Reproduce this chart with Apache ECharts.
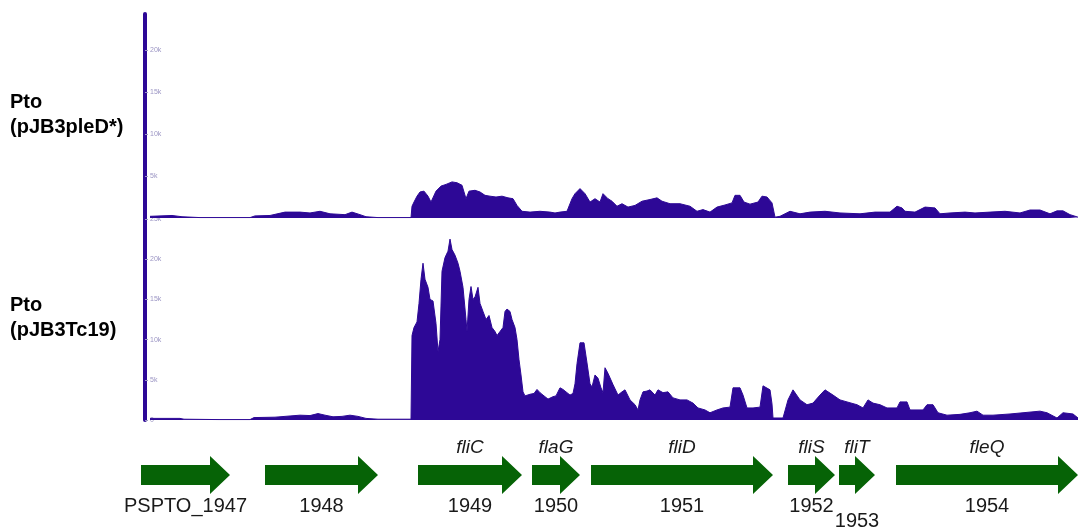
<!DOCTYPE html>
<html>
<head>
<meta charset="utf-8">
<script src="https://cdn.jsdelivr.net/npm/echarts@6/dist/echarts.min.js"></script>
<style>html,body{margin:0;padding:0;background:#fff}#c{width:1080px;height:527px}</style>
</head>
<body>
<div id="c"></div>
<script>
// Track labels
const trackLabels = [['Pto', '(pJB3pleD*)'], ['Pto', '(pJB3Tc19)']];
const tickStep = 5; // k reads

// Coverage, top track (position, coverage in k reads)
const topPos = [150,172,182,200,250,255,270,285,300,310,320,330,345,352,360,366,378,411,
  412,414,417,420,424,428,431,436,441,446,452,457,462,466,469,475,480,485,490,496,502,508,513,517,522,
  530,540,550,555,560,567,572,575,580,585,590,595,600,603,608,612,617,622,628,635,642,650,657,662,670,680,690,697,703,
  710,717,725,732,735,740,744,750,758,762,767,772,775,780,790,800,810,825,840,860,875,890,897,902,905,915,925,935,940,
  950,965,975,990,1005,1020,1030,1040,1050,1057,1063,1070,1078];
const topCov = [0.2,0.3,0.15,0.05,0.05,0.25,0.3,0.7,0.7,0.6,0.8,0.5,0.4,0.7,0.4,0.15,0.05,0.05,
  1.4,1.9,2.6,3.1,3.2,2.6,1.9,3.2,3.8,4.0,4.3,4.2,3.9,2.3,3.2,3.3,3.1,2.7,2.6,2.5,2.6,2.4,2.3,1.5,0.8,
  0.7,0.8,0.7,0.6,0.7,0.8,2.3,2.9,3.5,2.9,1.9,2.3,1.9,2.9,2.3,2.0,1.4,1.7,1.3,1.5,2.0,2.2,2.4,2.0,1.7,1.7,1.4,0.8,1.0,
  0.7,1.3,1.55,1.8,2.7,2.7,1.9,1.65,1.9,2.6,2.5,1.8,0.1,0.2,0.8,0.5,0.7,0.8,0.6,0.5,0.7,0.7,1.4,1.2,0.8,0.7,1.3,1.2,0.5,
  0.6,0.7,0.6,0.7,0.8,0.6,0.95,0.95,0.5,0.85,0.85,0.4,0.1];

// Coverage, bottom track (position, coverage in k reads)
const botPos = [150,180,184,220,250,254,275,290,300,310,318,325,333,342,350,358,366,378,411,
  412,414,417,419,421,423,425,428,430,433,436,438,440,442,445,448,450,452,455,458,460,463,466,467,469,471,473,475,478,480,
  483,486,489,492,495,497,500,503,505,507,510,512,515,517,519,521,523,525,530,534,537,540,544,548,550,553,556,560,563,567,
  570,573,575,577,580,584,587,590,592,595,598,601,603,605,608,610,613,618,622,625,630,635,638,640,643,647,650,655,658,663,
  668,673,680,687,693,698,705,710,717,723,730,733,740,743,747,753,760,763,770,772,773,783,788,793,800,807,813,820,825,833,
  840,847,857,863,868,873,880,887,897,900,907,910,923,927,933,938,947,960,970,977,983,993,1010,1023,1040,1047,1057,1063,1073,1078];
const botCov = [0.2,0.2,0.1,0.05,0.05,0.3,0.35,0.5,0.6,0.55,0.8,0.6,0.4,0.45,0.6,0.45,0.2,0.1,0.1,
  10.5,11.5,12.2,14.5,17.5,19.5,17.5,16.5,15.0,14.8,12.0,8.5,10.0,18.5,20.2,21.0,22.5,21.2,20.5,19.5,18.5,16.5,12.5,11.0,15.0,16.6,15.0,15.3,16.5,14.5,
  13.5,12.5,13.0,11.5,11.0,10.5,11.0,11.5,13.5,13.8,13.5,12.5,11.5,10.0,7.5,5.6,3.5,3.0,3.2,3.3,3.8,3.4,3.0,2.6,2.4,2.9,3.0,4.0,3.8,3.4,
  3.1,3.3,4.5,7.0,9.6,9.6,7.1,4.5,4.1,5.6,5.2,4.0,3.4,6.5,5.8,5.6,4.4,3.1,3.5,3.75,2.5,1.9,1.25,2.5,3.5,3.6,3.75,3.1,3.75,3.4,
  3.5,2.75,2.5,2.5,2.1,1.5,1.25,0.9,1.25,1.5,1.6,4.0,4.0,3.1,1.5,1.5,1.6,4.25,3.75,2.0,0.25,0.25,2.5,3.75,2.5,1.9,2.1,3.1,3.75,3.1,
  2.5,2.25,1.9,1.5,2.5,2.1,1.9,1.5,1.5,2.25,2.25,1.25,1.25,1.9,1.9,0.9,0.6,0.7,0.9,1.1,0.6,0.6,0.75,0.9,1.1,0.9,0.25,0.9,0.75,0.25];

// Genes
const geneIds   = ['PSPTO_1947','1948','1949','1950','1951','1952','1953','1954'];
const geneNames = ['','','fliC','flaG','fliD','fliS','fliT','fleQ'];
const geneStart = [141,265,418,532,591,788,839,896];
const geneEnd   = [230,378,522,580,773,835,875,1078];
const idRow     = [0,0,0,0,0,0,1,0];

const purple = '#2d0896';
const tickCol = '#9c96c4';

function pairs(xs, ys){ return xs.map((x,i)=>[x, ys[i]]); }

function covAxis(grid, max, showMin, showMax){
  return {
    type:'value', gridIndex:grid, min:0, max:max, interval:tickStep,
    axisLine:{show:true, lineStyle:{color:purple, width:4}},
    axisTick:{show:true, inside:true, length:3, lineStyle:{color:tickCol, width:1}},
    axisLabel:{inside:true, fontSize:7, color:tickCol, margin:5, showMaxLabel:showMax, showMinLabel:showMin,
      formatter: v => v === 0 ? '0' : v + 'k'},
    splitLine:{show:false}
  };
}

const chart = echarts.init(document.getElementById('c'), null, {renderer:'canvas'});
chart.setOption({
  animation:false,
  backgroundColor:'#ffffff',
  grid:[
    {left:145, right:2, top:14, height:204},
    {left:145, right:2, top:219, height:201},
    {left:140, right:2, top:440, height:70}
  ],
  xAxis:[
    {type:'value', gridIndex:0, min:145, max:1078, show:false},
    {type:'value', gridIndex:1, min:145, max:1078, show:false},
    {type:'value', gridIndex:2, min:140, max:1078, show:false}
  ],
  yAxis:[
    covAxis(0, 24.3, false, false),
    covAxis(1, 25, true, true),
    {type:'value', gridIndex:2, min:0, max:1, show:false}
  ],
  graphic:[
    {type:'text', left:10, top:90, style:{text:trackLabels[0].join('\n'), font:'bold 20px "Liberation Sans", Arial, sans-serif', fill:'#000', lineHeight:25}},
    {type:'text', left:10, top:293, style:{text:trackLabels[1].join('\n'), font:'bold 20px "Liberation Sans", Arial, sans-serif', fill:'#000', lineHeight:25}}
  ],
  series:[
    {type:'line', xAxisIndex:0, yAxisIndex:0, data:pairs(topPos, topCov), showSymbol:false,
      lineStyle:{color:purple, width:1}, areaStyle:{color:purple, opacity:1}, z:3},
    {type:'line', xAxisIndex:1, yAxisIndex:1, data:pairs(botPos, botCov), showSymbol:false,
      lineStyle:{color:purple, width:1}, areaStyle:{color:purple, opacity:1}, z:3},
    {type:'custom', xAxisIndex:2, yAxisIndex:2, clip:false,
      data: geneIds.map((g,i)=>[geneStart[i], geneEnd[i], i]),
      renderItem:function(params, api){
        const i = api.value(2);
        const s = api.coord([api.value(0), 0.5]);
        const e = api.coord([api.value(1), 0.5]);
        const cy = s[1], head = 20, bh = 10, hh = 19;
        const cx = (s[0] + e[0]) / 2;
        const children = [
          {type:'polygon', shape:{points:[[s[0],cy-bh],[e[0]-head,cy-bh],[e[0]-head,cy-hh],[e[0],cy],[e[0]-head,cy+hh],[e[0]-head,cy+bh],[s[0],cy+bh]]},
            style:{fill:'#066306'}},
          {type:'text', style:{text:geneIds[i], x:cx, y:cy + (idRow[i] ? 46 : 31), align:'center', verticalAlign:'middle',
            font:'20px "Liberation Sans", Arial, sans-serif', fill:'#1a1a1a'}}
        ];
        if (geneNames[i]) children.push({type:'text', style:{text:geneNames[i], x:cx, y:cy-27, align:'center', verticalAlign:'middle',
            font:'italic 19px "Liberation Sans", Arial, sans-serif', fill:'#1a1a1a'}});
        return {type:'group', children:children};
      }
    }
  ]
});
</script>
</body>
</html>
